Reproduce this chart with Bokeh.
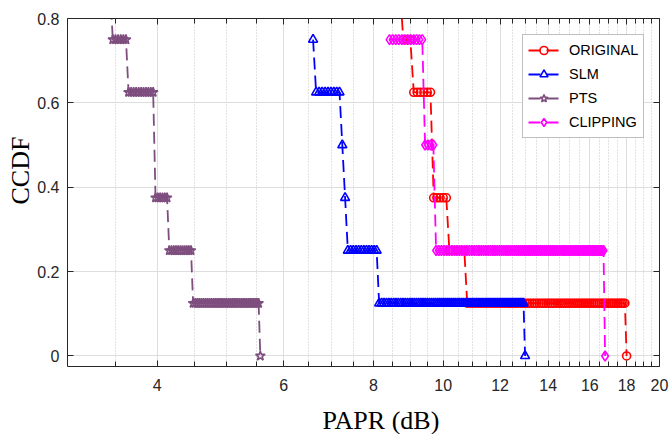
import numpy as np
from bokeh.plotting import figure
from bokeh.models import (Range1d, FixedTicker, NumeralTickFormatter, LogAxis, LinearAxis,
                          Legend, LegendItem, Title, CustomJSTickFormatter, ColumnDataSource)
from bokeh.embed import file_html
from bokeh.resources import INLINE

# ---------------- data ----------------
series_names = ["ORIGINAL", "SLM", "PTS", "CLIPPING"]
# PAPR (dB) of the 8 OFDM symbols of each scheme, i.e. where each CCDF step drops
original_papr_db = [8.10, 8.75, 9.05, 9.65, 9.65, 10.15, 10.75, 18.00]
slm_papr_db = [6.59, 6.59, 6.62, 7.20, 7.27, 7.33, 8.10, 13.00]
pts_papr_db = [2.60, 3.45, 3.63, 3.96, 3.96, 4.14, 4.465, 5.565]
clipping_papr_db = [8.42, 8.42, 9.38, 9.38, 9.72, 9.72, 16.80, 16.80]
thresholds_per_curve = 100   # number of PAPR thresholds each CCDF was evaluated at

x_major_ticks = [4, 6, 8, 10, 12, 14, 16, 18, 20]
x_minor_ticks = [3.5, 4.5, 5, 5.5, 6.5, 7, 7.5, 8.5, 9, 9.5, 10.5, 11, 11.5,
                 12.5, 13, 13.5, 14.5, 15, 15.5, 16.5, 17, 17.5, 18.5, 19, 19.5]
y_ticks = [0, 0.2, 0.4, 0.6, 0.8]

colors = ["#FF0000", "#0000FF", "#7E4E7E", "#FF00FF"]
markers = ["circle", "triangle", "star", "diamond"]
marker_sizes = [8, 9, 10, 10]


def empirical_ccdf(papr_db, n):
    papr = np.asarray(papr_db, dtype=float)
    thr = np.linspace(papr.min(), papr.max(), n)
    prob = (papr[None, :] > thr[:, None]).mean(axis=1)
    return thr, prob


AX = "#262626"
p = figure(width=670, height=434, x_axis_type="log",
           x_range=Range1d(3, 20), y_range=Range1d(-0.025, 0.8),
           output_backend="svg", toolbar_location=None,
           min_border_left=67, min_border_right=11, min_border_top=18, min_border_bottom=68,
           background_fill_color="white", border_fill_color="white")
p.outline_line_color = None

xt = FixedTicker(ticks=x_major_ticks, minor_ticks=x_minor_ticks)
yt = FixedTicker(ticks=y_ticks)

xa = p.below[0]
xa.ticker = xt
xa.formatter = NumeralTickFormatter(format="0")
ya = p.left[0]
ya.ticker = yt
ya.formatter = NumeralTickFormatter(format="0.[0]")
for ax in (xa, ya):
    ax.axis_line_color = AX
    ax.major_tick_line_color = AX
    ax.minor_tick_line_color = AX
    ax.major_tick_in = 6
    ax.major_tick_out = 0
    ax.minor_tick_in = 5
    ax.minor_tick_out = 0
    ax.major_label_text_font = "Liberation Sans"
    ax.major_label_text_font_size = "16px"
    ax.major_label_text_color = AX
xa.major_label_standoff = 12
ya.major_label_standoff = 8
ya.minor_tick_in = 0

# box ticks on top and right
top = LogAxis(ticker=xt, formatter=CustomJSTickFormatter(code="return ''"))
right = LinearAxis(ticker=yt, formatter=CustomJSTickFormatter(code="return ''"))
for ax in (top, right):
    ax.axis_line_color = AX
    ax.major_tick_line_color = AX
    ax.minor_tick_line_color = AX
    ax.major_tick_in = 6
    ax.major_tick_out = 0
    ax.minor_tick_in = 5
    ax.minor_tick_out = 0
    ax.major_label_text_font_size = "0px"
    ax.major_label_standoff = 0
right.minor_tick_in = 0
p.add_layout(top, "above")
p.add_layout(right, "right")

p.xgrid.grid_line_color = "#DEDEDE"
p.xgrid.minor_grid_line_color = "#C4C4C4"
p.xgrid.minor_grid_line_dash = "1 2"
p.ygrid.grid_line_color = "#DEDEDE"

items = []
for name, papr, color, marker, size in zip(
        series_names,
        [original_papr_db, slm_papr_db, pts_papr_db, clipping_papr_db],
        colors, markers, marker_sizes):
    x, y = empirical_ccdf(papr, thresholds_per_curve)
    src = ColumnDataSource(dict(x=x, y=y))
    lr = p.line("x", "y", source=src, line_color=color, line_width=1.8, line_dash="12 6")
    sr = p.scatter("x", "y", source=src, marker=marker, size=size,
                   line_color=color, fill_color=None, line_width=1.6)
    items.append(LegendItem(label=name, renderers=[lr, sr]))

legend = Legend(items=items, location=(455, 228), padding=5, spacing=4,
                glyph_width=31, glyph_height=20, label_height=20, label_standoff=10,
                label_text_font="Liberation Sans", label_text_font_size="14.5px",
                label_text_color="black", border_line_color="#808080", border_line_width=1,
                background_fill_color="white", background_fill_alpha=1.0)
p.add_layout(legend)

# axis titles (serif), positioned like the reference
spacer = Title(text=" ", standoff=0, text_font="Liberation Serif", text_font_size="7px")
xlabel = Title(text="PAPR (dB)", align="left", offset=255, standoff=0,
               text_font="Liberation Serif", text_font_size="26px",
               text_font_style="normal", text_color="black")
ylabel = Title(text="CCDF", align="left", offset=162, standoff=0,
               text_font="Liberation Serif", text_font_size="26px",
               text_font_style="normal", text_color="black")
p.add_layout(spacer, "below")
p.add_layout(xlabel, "below")
p.add_layout(ylabel, "left")

open("out.html", "w").write(file_html(p, INLINE))
